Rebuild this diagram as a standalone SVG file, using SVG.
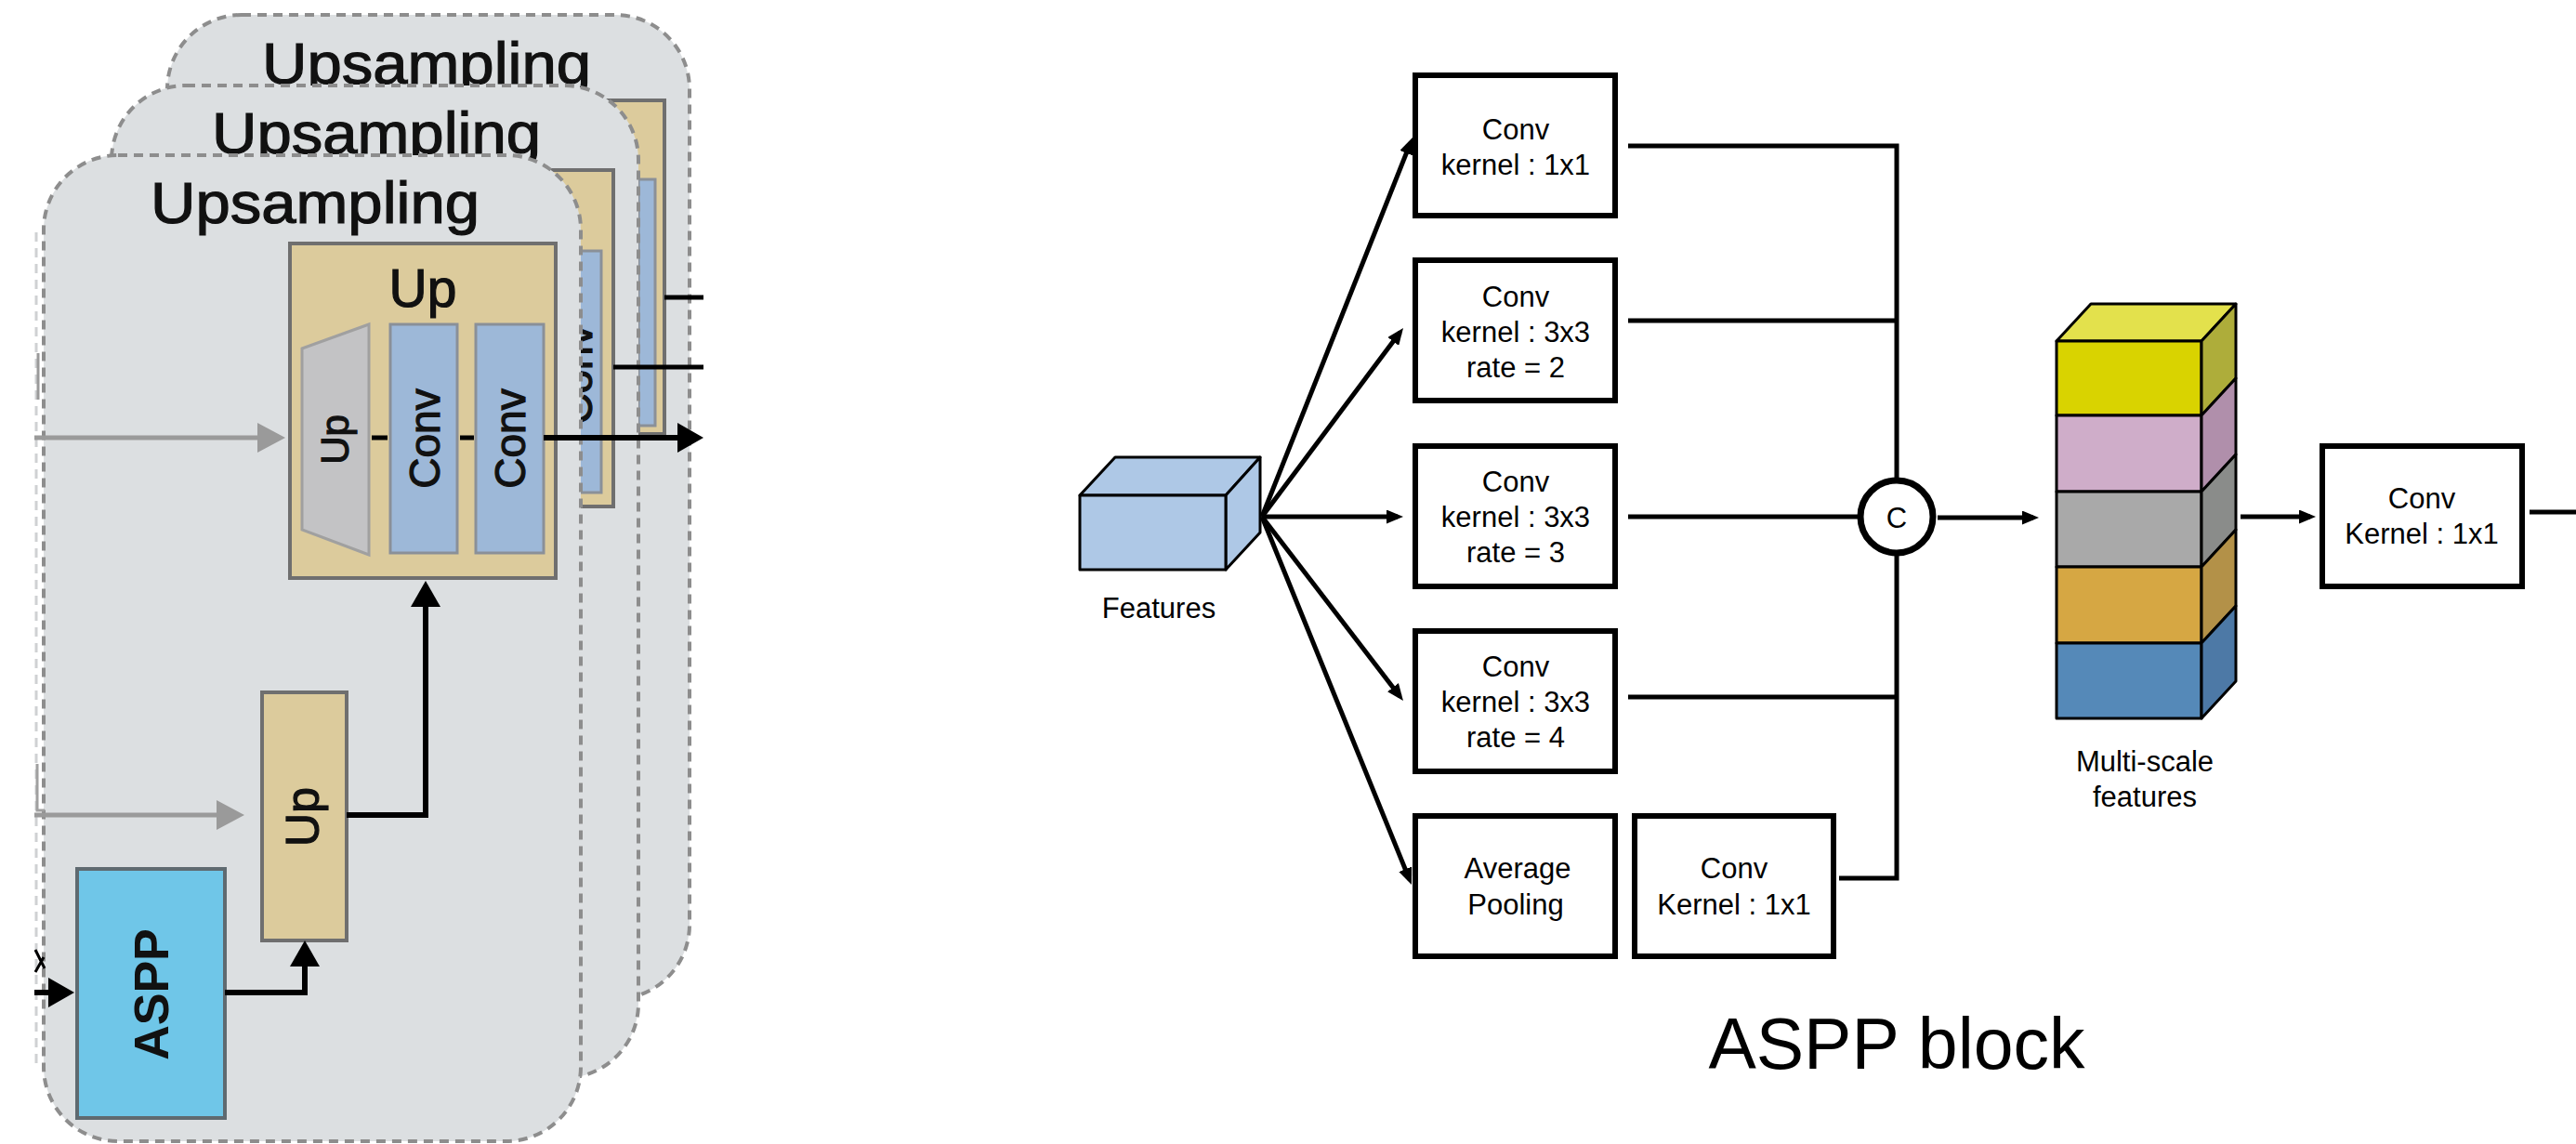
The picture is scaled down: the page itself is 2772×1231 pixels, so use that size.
<svg xmlns="http://www.w3.org/2000/svg" width="2772" height="1231" viewBox="0 0 2772 1231">
  <style>
    .panel { fill: #dcdfe1; stroke: #8d8d8d; stroke-width: 4; stroke-dasharray: 10 7; }
    .ptitle { font-family: "Liberation Sans", Arial, sans-serif; font-size: 63px; fill: #111; stroke: #111; stroke-width: 1.2; }
    .beige { fill: #dccb9c; stroke: #6f6f6f; stroke-width: 4; }
    .bar { fill: #9db8d8; stroke: #8a9098; stroke-width: 3; }
    .lbl { font-family: "Liberation Sans", Arial, sans-serif; fill: #111; stroke: #111; stroke-width: 1.2; }
    .box { fill: #ffffff; stroke: #000; stroke-width: 6; }
    .t { font-family: "Liberation Sans", Arial, sans-serif; font-size: 31px; fill: #000; text-anchor: middle; }
    .wire { fill: none; stroke: #000; stroke-width: 5; }
    .thick { fill: none; stroke: #000; stroke-width: 6; }
    .grey { fill: none; stroke: #9a9a9a; stroke-width: 5; }
    .cube { stroke: #000; stroke-width: 3; stroke-linejoin: round; }
  </style>
  <defs>
    <marker id="ah" markerUnits="userSpaceOnUse" viewBox="0 0 18 15" markerWidth="18" markerHeight="15" refX="12" refY="7.5" orient="auto">
      <path d="M0,0 L18,7.5 L0,15 z" fill="#000"/>
    </marker>
    <marker id="bigBlack" markerUnits="userSpaceOnUse" viewBox="0 0 28 32" markerWidth="28" markerHeight="32" refX="22" refY="16" orient="auto">
      <path d="M0,0 L28,16 L0,32 z" fill="#000"/>
    </marker>
    <marker id="bigGrey" markerUnits="userSpaceOnUse" viewBox="0 0 30 32" markerWidth="30" markerHeight="32" refX="24" refY="16" orient="auto">
      <path d="M0,0 L30,16 L0,32 z" fill="#9a9a9a"/>
    </marker>
  </defs>

  <rect width="2772" height="1231" fill="#ffffff"/>

  <!-- decoder stack: three Upsampling stages, back to front -->
  <g id="upsampling-3">
    <rect class="panel" x="180" y="16" width="562" height="1059" rx="80" ry="80"/>
    <text class="ptitle" x="282" y="90" textLength="354" lengthAdjust="spacingAndGlyphs">Upsampling</text>
    <rect class="beige" x="560" y="108" width="155" height="359"/>
    <rect class="bar" x="687" y="193" width="18" height="265"/>
  </g>

  <g id="upsampling-2">
    <rect class="panel" x="120" y="92" width="567" height="1068" rx="80" ry="80"/>
    <text class="ptitle" x="228" y="165" textLength="354" lengthAdjust="spacingAndGlyphs">Upsampling</text>
    <rect class="beige" x="500" y="183" width="160" height="362"/>
    <rect class="bar" x="574" y="270" width="73" height="260"/>
    <text class="lbl" font-size="46" text-anchor="middle" transform="translate(620,403) rotate(-90)" y="16.5">Conv</text>
  </g>

  <g id="upsampling-1">
    <rect class="panel" x="47" y="167" width="578" height="1061" rx="80" ry="80"/>
    <text class="ptitle" x="162" y="240" textLength="354" lengthAdjust="spacingAndGlyphs">Upsampling</text>
  </g>

  <g id="up-block">
    <rect class="beige" x="312" y="262" width="286" height="360"/>
    <text class="lbl" font-size="57" text-anchor="middle" x="455" y="330">Up</text>
  </g>
  <g id="up-unpool">
    <polygon points="325,375 397,349 397,597 325,570" fill="#c3c3c5" stroke="#a0a0a0" stroke-width="3"/>
    <text class="lbl" font-size="42" text-anchor="middle" transform="translate(364,473) rotate(-90)" y="10.6">Up</text>
  </g>
  <g id="up-conv-1">
    <rect class="bar" x="420" y="349" width="72" height="246"/>
    <text class="lbl" font-size="46" text-anchor="middle" transform="translate(456,472) rotate(-90)" y="16.5">Conv</text>
  </g>
  <g id="up-conv-2">
    <rect class="bar" x="512" y="349" width="73" height="246"/>
    <text class="lbl" font-size="46" text-anchor="middle" transform="translate(548,472) rotate(-90)" y="16.5">Conv</text>
  </g>
  <g id="up-small">
    <rect class="beige" x="282" y="745" width="91" height="267"/>
    <text class="lbl" font-size="50" text-anchor="middle" transform="translate(330,879) rotate(-90)" y="12.6">Up</text>
  </g>
  <g id="aspp-module">
    <rect x="83" y="935" width="159" height="268" fill="#6fc6e8" stroke="#5f6a70" stroke-width="4"/>
    <text font-family="Liberation Sans, Arial, sans-serif" fill="#111" font-size="52" font-weight="bold" text-anchor="middle" transform="translate(162,1070) rotate(-90)" y="18.6">ASPP</text>
  </g>

  <!-- stray fragments at the cut left edge -->
  <g id="edge-fragments">
    <line x1="39" y1="250" x2="39" y2="1150" stroke="#cfd1d3" stroke-width="3" stroke-dasharray="10 7"/>
    <line x1="41" y1="380" x2="41" y2="430" stroke="#9a9a9a" stroke-width="3"/>
    <path d="M40,822 V872 H48" fill="none" stroke="#a0a0a0" stroke-width="3"/>
    <path d="M38,1022 L48,1042 M38,1046 L47,1030" fill="none" stroke="#000" stroke-width="3"/>
  </g>

  <g id="connectors">
    <!-- Upsampling stages -->
    <line class="grey" x1="37" y1="471" x2="301" y2="471" marker-end="url(#bigGrey)"/>
    <line class="grey" x1="37" y1="877" x2="257" y2="877" marker-end="url(#bigGrey)"/>
    <line class="thick" x1="37" y1="1068" x2="74" y2="1068" marker-end="url(#bigBlack)"/>
    <path class="thick" d="M242,1068 H328 V1018" marker-end="url(#bigBlack)"/>
    <path class="thick" d="M373,877 H458 V631" marker-end="url(#bigBlack)"/>
    <path class="wire" d="M400,471 H417 M495,471 H510"/>
    <line class="thick" x1="585" y1="471" x2="751" y2="471" marker-end="url(#bigBlack)"/>
    <line class="wire" x1="715" y1="320" x2="757" y2="320"/>
    <line class="wire" x1="660" y1="395" x2="757" y2="395"/>

    <!-- ASPP block -->
    <line class="wire" x1="1358" y1="556" x2="1517.8" y2="153.6" marker-end="url(#ah)"/>
    <line class="wire" x1="1358" y1="556" x2="1506.4" y2="357.8" marker-end="url(#ah)"/>
    <line class="wire" x1="1358" y1="556" x2="1504" y2="556" marker-end="url(#ah)"/>
    <line class="wire" x1="1358" y1="556" x2="1506.3" y2="749.2" marker-end="url(#ah)"/>
    <line class="wire" x1="1358" y1="556" x2="1516.7" y2="946.4" marker-end="url(#ah)"/>
    <path class="wire" d="M1752,157 H2041 V517"/>
    <path class="wire" d="M1752,345 H2041"/>
    <path class="wire" d="M1752,556 H2002"/>
    <path class="wire" d="M1752,750 H2041"/>
    <path class="wire" d="M1979,945 H2041 V595"/>
    <line class="wire" x1="2085" y1="557" x2="2188" y2="557" marker-end="url(#ah)"/>
    <line class="wire" x1="2411" y1="556" x2="2486" y2="556" marker-end="url(#ah)"/>
    <line class="wire" x1="2722" y1="551" x2="2772" y2="551"/>
  </g>

  <g id="features">
    <polygon class="cube" points="1162,533 1200,492 1356,492 1319,533" fill="#aec8e6"/>
    <polygon class="cube" points="1319,533 1356,492 1356,573 1319,613" fill="#aec8e6"/>
    <rect class="cube" x="1162" y="533" width="157" height="80" fill="#aec8e6"/>
    <text class="t" x="1247" y="665">Features</text>
  </g>

  <g id="conv-1x1">
    <rect class="box" x="1523" y="81" width="215" height="151"/>
    <text class="t" x="1631" y="150">Conv</text>
    <text class="t" x="1631" y="188">kernel : 1x1</text>
  </g>
  <g id="conv-3x3-r2">
    <rect class="box" x="1523" y="280" width="215" height="151"/>
    <text class="t" x="1631" y="330">Conv</text>
    <text class="t" x="1631" y="368">kernel : 3x3</text>
    <text class="t" x="1631" y="406">rate = 2</text>
  </g>
  <g id="conv-3x3-r3">
    <rect class="box" x="1523" y="480" width="215" height="151"/>
    <text class="t" x="1631" y="529">Conv</text>
    <text class="t" x="1631" y="567">kernel : 3x3</text>
    <text class="t" x="1631" y="605">rate = 3</text>
  </g>
  <g id="conv-3x3-r4">
    <rect class="box" x="1523" y="679" width="215" height="151"/>
    <text class="t" x="1631" y="728">Conv</text>
    <text class="t" x="1631" y="766">kernel : 3x3</text>
    <text class="t" x="1631" y="804">rate = 4</text>
  </g>
  <g id="avg-pool">
    <rect class="box" x="1523" y="878" width="215" height="151"/>
    <text class="t" x="1633" y="945">Average</text>
    <text class="t" x="1631" y="984">Pooling</text>
  </g>
  <g id="pool-conv-1x1">
    <rect class="box" x="1759" y="878" width="214" height="151"/>
    <text class="t" x="1866" y="945">Conv</text>
    <text class="t" x="1866" y="984">Kernel : 1x1</text>
  </g>

  <g id="concat">
    <circle cx="2041" cy="556" r="39" fill="#ffffff" stroke="#000" stroke-width="7"/>
    <text class="t" x="2041" y="568" font-size="34">C</text>
  </g>

  <g id="multi-scale">
    <polygon class="cube" points="2213,367 2250,327 2406,327 2369,367" fill="#e3e14c"/>
    <rect class="cube" x="2213" y="367" width="156" height="80" fill="#d9d300"/>
    <polygon class="cube" points="2369,367 2406,327 2406,407 2369,447" fill="#aead3a"/>
    <rect class="cube" x="2213" y="447" width="156" height="82" fill="#cfadc9"/>
    <polygon class="cube" points="2369,447 2406,407 2406,489 2369,529" fill="#b08fab"/>
    <rect class="cube" x="2213" y="529" width="156" height="81" fill="#a9a9a9"/>
    <polygon class="cube" points="2369,529 2406,489 2406,570 2369,610" fill="#8a8c8a"/>
    <rect class="cube" x="2213" y="610" width="156" height="82" fill="#d6a743"/>
    <polygon class="cube" points="2369,610 2406,570 2406,652 2369,692" fill="#b39148"/>
    <rect class="cube" x="2213" y="692" width="156" height="81" fill="#5589b8"/>
    <polygon class="cube" points="2369,692 2406,652 2406,733 2369,773" fill="#4d79a6"/>
    <text class="t" x="2308" y="830">Multi-scale</text>
    <text class="t" x="2308" y="868">features</text>
  </g>

  <g id="conv-out">
    <rect class="box" x="2499" y="480" width="215" height="151"/>
    <text class="t" x="2606" y="547">Conv</text>
    <text class="t" x="2606" y="585">Kernel : 1x1</text>
  </g>

  <text x="2041" y="1150" font-family="Liberation Sans, Arial, sans-serif" font-size="77" text-anchor="middle" fill="#000">ASPP block</text>
</svg>
